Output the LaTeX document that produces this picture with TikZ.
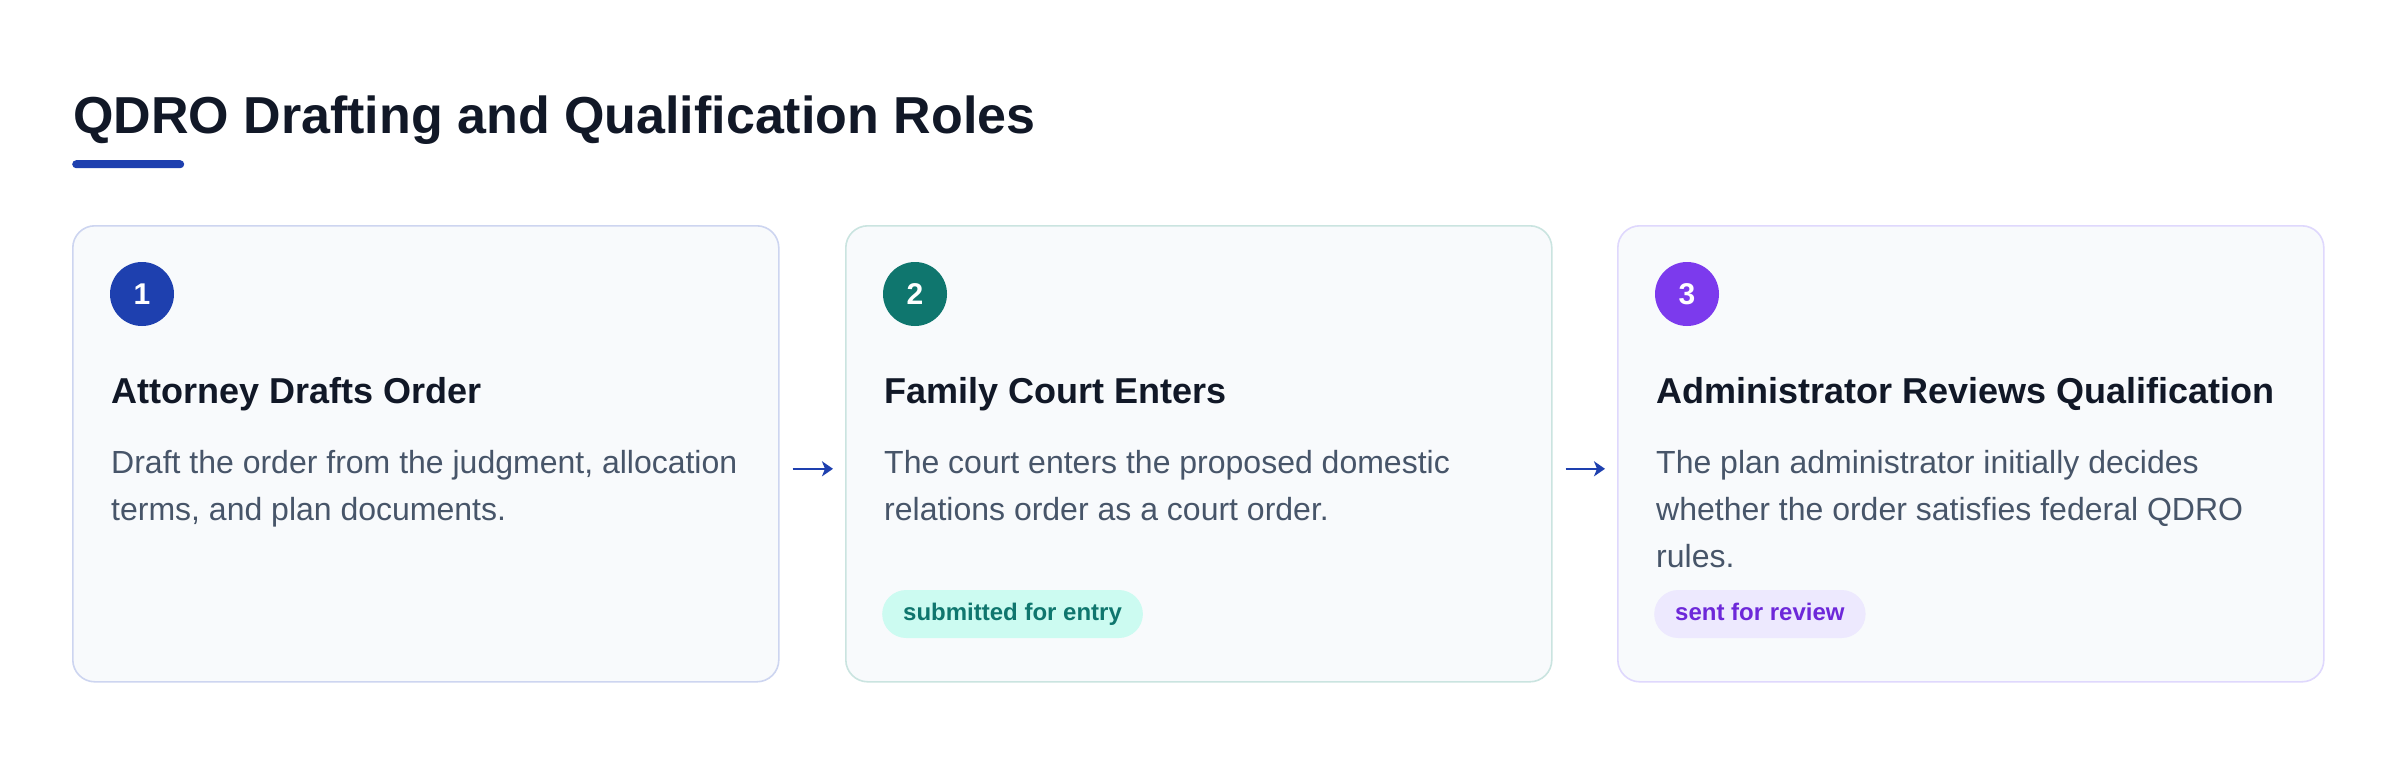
\documentclass[tikz,border=0pt]{standalone}
\usepackage{fontspec}
\setmainfont{Liberation Sans}
\usetikzlibrary{arrows.meta}
\definecolor{titlecol}{HTML}{111827}
\definecolor{accent}{HTML}{1E40AF}
\definecolor{cardfill}{HTML}{F8FAFC}
\definecolor{bordA}{HTML}{CDD5F0}
\definecolor{bordB}{HTML}{CAE4E0}
\definecolor{bordC}{HTML}{DFD8FD}
\definecolor{bodycol}{HTML}{475569}
\definecolor{tealc}{HTML}{0F766E}
\definecolor{violc}{HTML}{7C3AED}
\definecolor{pillAfill}{HTML}{CCFBF1}
\definecolor{pillBfill}{HTML}{EDE9FE}
\definecolor{pillBtext}{HTML}{6D28D9}
\tikzset{
  card/.style={draw=#1, line width=1.6pt, fill=cardfill, rounded corners=22pt,
    minimum width=706pt, minimum height=456pt, anchor=north west, inner sep=0pt},
  numdot/.style={circle, fill=#1, minimum size=64pt, inner sep=0pt, text=white,
    font=\fontsize{30}{30}\selectfont\bfseries, text height=21pt, text depth=0pt},
  heading/.style={anchor=base west, inner sep=0pt, text=titlecol,
    font=\fontsize{36}{40}\selectfont\bfseries},
  bodytext/.style={anchor=base west, inner sep=0pt, text=bodycol,
    font=\fontsize{32}{40}\selectfont},
  pill/.style={anchor=west, fill=#1, rounded corners=24pt, minimum height=48pt,
    inner xsep=21pt, inner ysep=0pt, text height=18pt, text depth=6pt,
    font=\fontsize{24}{24}\selectfont\bfseries},
  flow/.style={draw=accent, line width=2.2pt,
    -{Stealth[length=11pt,width=15pt,inset=3pt]}}
}
\begin{document}
\begin{tikzpicture}[x=1pt,y=-1pt]
\useasboundingbox[fill=white] (0,0) rectangle (2400,756);
% title
\node[anchor=base west, inner sep=0pt, text=titlecol,
  font=\fontsize{52}{60}\selectfont\bfseries] (title) at (73,133)
  {QDRO Drafting and Qualification Roles};
\node[fill=accent, rounded corners=4pt, minimum width=112pt, minimum height=8pt,
  inner sep=0pt, anchor=north west] (uline) at (72,160) {};
% cards
\node[card=bordA] (c1) at (72,225) {};
\node[card=bordB] (c2) at (845,225) {};
\node[card=bordC] (c3) at (1617,225) {};
% number dots
\node[numdot=accent] (n1) at (142,294) {1};
\node[numdot=tealc] (n2) at (915,294) {2};
\node[numdot=violc] (n3) at (1687,294) {3};
% headings
\node[heading] (h1) at (111,403) {Attorney Drafts Order};
\node[heading] (h2) at (884,403) {Family Court Enters};
\node[heading] (h3) at (1656,403) {Administrator Reviews Qualification};
% body text
\node[bodytext] (b1a) at (111,473) {Draft the order from the judgment, allocation};
\node[bodytext] (b1b) at (111,520) {terms, and plan documents.};
\node[bodytext] (b2a) at (884,473) {The court enters the proposed domestic};
\node[bodytext] (b2b) at (884,520) {relations order as a court order.};
\node[bodytext] (b3a) at (1656,473) {The plan administrator initially decides};
\node[bodytext] (b3b) at (1656,520) {whether the order satisfies federal QDRO};
\node[bodytext] (b3c) at (1656,567) {rules.};
% pills
\node[pill=pillAfill, text=tealc] (p2) at (882,614) {submitted for entry};
\node[pill=pillBfill, text=pillBtext] (p3) at (1654,614) {sent for review};
% arrows
\draw[flow, shorten <=13pt, shorten >=12pt] ([yshift=-15pt]c1.east) -- ([yshift=-15pt]c2.west);
\draw[flow, shorten <=13pt, shorten >=12pt] ([yshift=-15pt]c2.east) -- ([yshift=-15pt]c3.west);
\end{tikzpicture}
\end{document}
